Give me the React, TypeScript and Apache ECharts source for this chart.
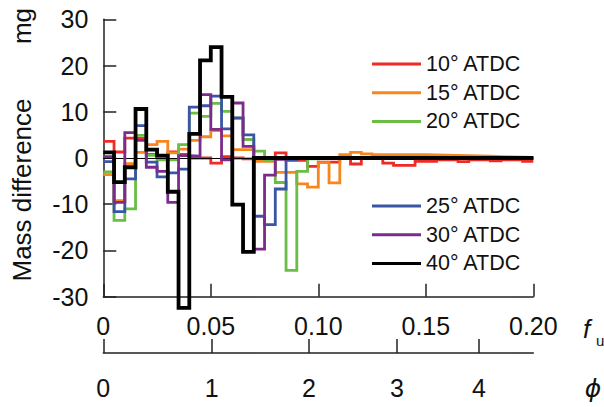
import React, { useEffect, useRef } from 'react';
import * as echarts from 'echarts';

const FONT = '"Liberation Sans", Arial, Helvetica, sans-serif';

// bin width of the histogram-like step curves (f_u)
const binWidth = 0.005;

const seriesNames = ['10° ATDC', '15° ATDC', '20° ATDC', '25° ATDC', '30° ATDC', '40° ATDC'];
const seriesColors = ['#ee2b24', '#f7861f', '#6abd45', '#3b55a4', '#7b2c8b', '#000000'];

// Mass difference (mg) per f_u bin of width 0.005, starting at f_u = 0
const atdc10 = [3.6, 1.3, 4.3, 4.2, 0.8, 0.4, 1.3, 0.8, 0.0, 0.0, -1.1, 0.3, 0.0, -0.2, -0.3, -0.3, 1.1, -0.5, -0.5, -1.8,
  -0.9, -0.9, 0.2, -1.3, 0.0, 0.0, -1.1, -1.6, -1.6, -0.7, -0.7, -0.4, -0.4, -0.8, -0.4, -0.4, -0.6, -0.4, -0.4, -0.7];
const atdc15 = [-3.6, -9.2, -1.2, 1.2, 2.9, 3.6, 1.1, 1.9, 3.8, 4.6, 5.9, 4.8, 1.8, 1.8, -0.7, -0.7, -3.1, -3.1, -5.6, -6.3,
  -1.0, -5.4, 0.7, 1.2, 0.9, 0.7, 0.75, 0.75, 0.7, 0.7, 0.65, 0.6, 0.55, 0.5, 0.45, 0.4, 0.3, 0.25, 0.2, 0.15];
const atdc20 = [-3.0, -13.5, -11.0, 4.9, 0.6, -0.4, -0.4, 2.9, 9.7, 9.0, 11.8, 10.1, 8.6, 4.0, 1.5, -0.5, -5.3, -24.3, -2.9, -0.2,
  0, 0, 0, 0, 0, 0, 0, 0, 0, 0, 0, 0, 0, 0, 0, 0, 0, 0, 0, 0];
const atdc25 = [-0.8, -11.6, -4.5, 7.0, -0.9, -4.1, -3.2, -2.4, 11.0, 11.3, 13.4, 6.3, 8.7, 5.0, -12.6, -14.4, -6.7, -0.4, 0, 0,
  0, 0, 0, 0, 0, 0, 0, 0, 0, 0, 0, 0, 0, 0, 0, 0, 0, 0, 0, 0];
const atdc30 = [0.3, -9.6, 5.5, 3.8, -2.0, -2.9, -9.6, 0.5, 0.4, 13.7, 6.2, -0.4, 11.9, 2.5, -19.7, -3.7, -0.3, 0, 0, 0,
  0, 0, 0, 0, 0, 0, 0, 0, 0, 0, 0, 0, 0, 0, 0, 0, 0, 0, 0, 0];
const atdc40 = [1.2, -5.2, -2.0, 10.6, 1.8, 0.5, -7.3, -32.4, 5.2, 21.1, 24.0, 13.2, -10.1, -20.3, 0, 0, 0, 0, 0, 0,
  0, 0, 0, 0, 0, 0, 0, 0, 0, 0, 0, 0, 0, 0, 0, 0, 0, 0, 0, 0];

const allSeries = [atdc10, atdc15, atdc20, atdc25, atdc30, atdc40];

// f_u axis
const fuTicks = [0, 0.05, 0.1, 0.15, 0.2];
const fuLabels = ['0', '0.05', '0.10', '0.15', '0.20'];
// phi axis (non-linear against f_u)
const phiTicks = ['0', '1', '2', '3', '4'];
const phiAtFu = [0, 0.0504, 0.0957, 0.1366, 0.1747];

const yTicksMin = -30;
const yTicksMax = 30;
const yInterval = 10;

function stepData(values: number[]) {
  const pts: number[][] = values.map((v, k) => [k * binWidth, v]);
  pts.push([values.length * binWidth, values[values.length - 1]]);
  return pts;
}

function nearestIndex(arr: number[], v: number) {
  let best = 0;
  for (let i = 1; i < arr.length; i++) {
    if (Math.abs(arr[i] - v) < Math.abs(arr[best] - v)) best = i;
  }
  return best;
}

export default function App() {
  const ref = useRef<HTMLDivElement>(null);

  useEffect(() => {
    document.body.style.margin = '0';
    if (!ref.current) return;
    const chart = echarts.init(ref.current, null, { renderer: 'svg' });

    const axisColor = '#222';
    const labelColor = '#111';

    const series: any[] = allSeries.map((vals, i) => ({
      type: 'line',
      name: seriesNames[i],
      xAxisIndex: 0,
      yAxisIndex: 0,
      data: stepData(vals),
      step: 'end',
      symbol: 'none',
      showSymbol: false,
      clip: i === 5 ? false : true,
      lineStyle: { color: seriesColors[i], width: i === 5 ? 3.8 : 2.8, join: 'miter', cap: 'butt' },
      itemStyle: { color: seriesColors[i] },
      emphasis: { disabled: true },
      silent: true,
      z: 2 + i,
      markLine: i === 0 ? {
        silent: true,
        symbol: 'none',
        label: { show: false },
        lineStyle: { color: '#000', width: 1, type: 'solid' },
        data: [{ yAxis: 0 }],
      } : undefined,
    }));

    const legendBase = {
      orient: 'vertical',
      left: 372,
      itemWidth: 49,
      itemHeight: 3,
      itemGap: 6.7,
      icon: 'rect',
      padding: 0,
      selectedMode: false,
      itemStyle: { borderWidth: 0 },
      textStyle: { fontSize: 21.5, lineHeight: 22, color: labelColor, fontFamily: FONT },
    };

    const option: any = {
      animation: false,
      textStyle: { fontFamily: FONT },
      grid: [
        { left: 103.3, right: 70.7, top: 19.3, bottom: 110.3, outerBoundsMode: 'none', containLabel: false },
        { left: 103.3, right: 70.7, top: 340, bottom: 54, outerBoundsMode: 'none', containLabel: false },
      ],
      legend: [
        { ...legendBase, top: 53, data: seriesNames.slice(0, 3) },
        { ...legendBase, top: 195, data: seriesNames.slice(3) },
      ],
      xAxis: [
        {
          type: 'value',
          gridIndex: 0,
          min: fuTicks[0],
          max: fuTicks[fuTicks.length - 1],
          interval: 0.05,
          axisLine: { show: true, onZero: false, lineStyle: { color: axisColor, width: 1.5 } },
          axisTick: { show: true, inside: true, length: 13, lineStyle: { color: axisColor, width: 1.5 } },
          axisLabel: {
            margin: 17,
            fontSize: 25,
            color: labelColor,
            fontFamily: FONT,
            formatter: (v: number) => fuLabels[nearestIndex(fuTicks, v)],
          },
          splitLine: { show: false },
        },
        {
          type: 'value',
          gridIndex: 1,
          min: 0,
          max: 0.2,
          axisLine: { show: true, onZero: false, lineStyle: { color: axisColor, width: 1.5 } },
          axisTick: { show: true, inside: true, length: 14, customValues: phiAtFu, lineStyle: { color: axisColor, width: 1.5 } },
          axisLabel: {
            margin: 22,
            fontSize: 25,
            color: labelColor,
            fontFamily: FONT,
            customValues: phiAtFu,
            formatter: (v: number) => phiTicks[nearestIndex(phiAtFu, v)],
          },
          splitLine: { show: false },
        },
      ],
      yAxis: [
        {
          type: 'value',
          gridIndex: 0,
          min: yTicksMin,
          max: yTicksMax,
          interval: yInterval,
          axisLine: { show: true, onZero: false, lineStyle: { color: axisColor, width: 1.5 } },
          axisTick: { show: true, inside: true, length: 13, lineStyle: { color: axisColor, width: 1.5 } },
          axisLabel: { margin: 15, fontSize: 25, color: labelColor, fontFamily: FONT },
          splitLine: { show: false },
        },
        { type: 'value', gridIndex: 1, min: 0, max: 1, show: false },
      ],
      graphic: [
        {
          type: 'text', x: 22, y: 190, rotation: Math.PI / 2,
          style: { text: 'Mass difference', fontSize: 26, fontFamily: FONT, fill: labelColor, align: 'center', verticalAlign: 'middle' },
        },
        {
          type: 'text', x: 22, y: 26, rotation: Math.PI / 2,
          style: { text: 'mg', fontSize: 26, fontFamily: FONT, fill: labelColor, align: 'center', verticalAlign: 'middle' },
        },
        {
          type: 'text', x: 583, y: 329,
          style: { text: 'f', fontSize: 26, fontStyle: 'italic', fontFamily: FONT, fill: labelColor, align: 'left', verticalAlign: 'middle' },
        },
        {
          type: 'text', x: 596, y: 340,
          style: { text: 'u', fontSize: 15, fontFamily: FONT, fill: labelColor, align: 'left', verticalAlign: 'middle' },
        },
        {
          type: 'text', x: 593, y: 388,
          style: { text: 'ϕ', fontSize: 25, fontStyle: 'italic', fontFamily: '"DejaVu Sans", "Liberation Sans", sans-serif', fill: labelColor, align: 'center', verticalAlign: 'middle' },
        },
      ],
      series,
    };

    chart.setOption(option);
    return () => chart.dispose();
  }, []);

  return <div ref={ref} style={{ width: 604, height: 407 }} />;
}
